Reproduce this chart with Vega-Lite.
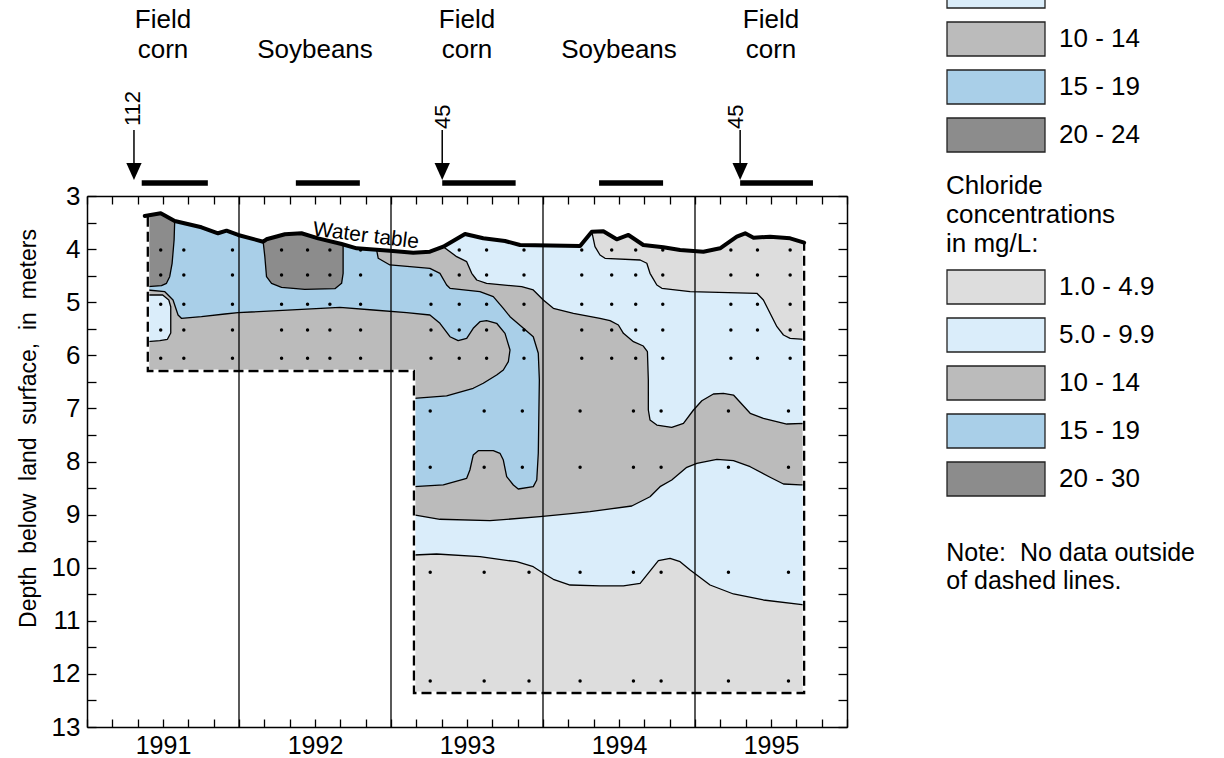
{
"$schema": "https://vega.github.io/schema/vega-lite/v6.json",
"width": 760, "height": 531,
"autosize": {"type": "none"},
"padding": {"left": 87, "top": 196, "right": 377, "bottom": 31},
"background": "white",
"config": {
  "view": {"stroke": null},
  "axis": {"domainColor": "black", "domainWidth": 1.5, "tickColor": "black", "tickWidth": 1.3, "labelColor": "black", "labelFont": "Liberation Sans", "labelFontSize": 26, "grid": false, "titleColor": "black", "titleFont": "Liberation Sans", "titleFontWeight": "normal", "titleFontSize": 23, "labelOverlap": false, "labelFlush": false, "zindex": 1},
  "legend": {"labelFont": "Liberation Sans", "labelFontSize": 26, "labelColor": "black", "labelOffset": 13, "labelLimit": 300, "padding": 0, "titleFont": "Liberation Sans", "titleFontSize": 26, "titleFontWeight": "normal", "titleColor": "black"},
  "text": {"font": "Liberation Sans", "color": "black"}
},
"datasets": {
"polys": [
{"poly":"D","cls":"1.0 - 4.9","i":0,"x":1991.4,"y":3.377},
{"poly":"D","cls":"1.0 - 4.9","i":1,"x":1991.485,"y":3.326},
{"poly":"D","cls":"1.0 - 4.9","i":2,"x":1991.577,"y":3.471},
{"poly":"D","cls":"1.0 - 4.9","i":3,"x":1991.753,"y":3.589},
{"poly":"D","cls":"1.0 - 4.9","i":4,"x":1991.862,"y":3.702},
{"poly":"D","cls":"1.0 - 4.9","i":5,"x":1991.918,"y":3.653},
{"poly":"D","cls":"1.0 - 4.9","i":6,"x":1991.994,"y":3.734},
{"poly":"D","cls":"1.0 - 4.9","i":7,"x":1992.159,"y":3.861},
{"poly":"D","cls":"1.0 - 4.9","i":8,"x":1992.181,"y":3.815},
{"poly":"D","cls":"1.0 - 4.9","i":9,"x":1992.302,"y":3.721},
{"poly":"D","cls":"1.0 - 4.9","i":10,"x":1992.411,"y":3.702},
{"poly":"D","cls":"1.0 - 4.9","i":11,"x":1992.521,"y":3.797},
{"poly":"D","cls":"1.0 - 4.9","i":12,"x":1992.675,"y":3.904},
{"poly":"D","cls":"1.0 - 4.9","i":13,"x":1992.774,"y":3.985},
{"poly":"D","cls":"1.0 - 4.9","i":14,"x":1992.993,"y":4.03},
{"poly":"D","cls":"1.0 - 4.9","i":15,"x":1993.146,"y":4.068},
{"poly":"D","cls":"1.0 - 4.9","i":16,"x":1993.256,"y":4.049},
{"poly":"D","cls":"1.0 - 4.9","i":17,"x":1993.344,"y":3.955},
{"poly":"D","cls":"1.0 - 4.9","i":18,"x":1993.487,"y":3.716},
{"poly":"D","cls":"1.0 - 4.9","i":19,"x":1993.607,"y":3.797},
{"poly":"D","cls":"1.0 - 4.9","i":20,"x":1993.75,"y":3.847},
{"poly":"D","cls":"1.0 - 4.9","i":21,"x":1993.849,"y":3.923},
{"poly":"D","cls":"1.0 - 4.9","i":22,"x":1994.244,"y":3.942},
{"poly":"D","cls":"1.0 - 4.9","i":23,"x":1994.321,"y":3.672},
{"poly":"D","cls":"1.0 - 4.9","i":24,"x":1994.397,"y":3.665},
{"poly":"D","cls":"1.0 - 4.9","i":25,"x":1994.485,"y":3.815},
{"poly":"D","cls":"1.0 - 4.9","i":26,"x":1994.562,"y":3.734},
{"poly":"D","cls":"1.0 - 4.9","i":27,"x":1994.66,"y":3.923},
{"poly":"D","cls":"1.0 - 4.9","i":28,"x":1994.792,"y":3.966},
{"poly":"D","cls":"1.0 - 4.9","i":29,"x":1994.902,"y":4.017},
{"poly":"D","cls":"1.0 - 4.9","i":30,"x":1995.055,"y":4.049},
{"poly":"D","cls":"1.0 - 4.9","i":31,"x":1995.165,"y":3.985},
{"poly":"D","cls":"1.0 - 4.9","i":32,"x":1995.275,"y":3.766},
{"poly":"D","cls":"1.0 - 4.9","i":33,"x":1995.33,"y":3.702},
{"poly":"D","cls":"1.0 - 4.9","i":34,"x":1995.385,"y":3.785},
{"poly":"D","cls":"1.0 - 4.9","i":35,"x":1995.494,"y":3.766},
{"poly":"D","cls":"1.0 - 4.9","i":36,"x":1995.626,"y":3.797},
{"poly":"D","cls":"1.0 - 4.9","i":37,"x":1995.718,"y":3.879},
{"poly":"D","cls":"1.0 - 4.9","i":38,"x":1995.718,"y":12.36},
{"poly":"D","cls":"1.0 - 4.9","i":39,"x":1993.151,"y":12.36},
{"poly":"D","cls":"1.0 - 4.9","i":40,"x":1993.151,"y":6.296},
{"poly":"D","cls":"1.0 - 4.9","i":41,"x":1991.4,"y":6.296},

{"poly":"LB","cls":"5.0 - 9.9","i":0,"x":1991.4,"y":3.377},
{"poly":"LB","cls":"5.0 - 9.9","i":1,"x":1991.485,"y":3.326},
{"poly":"LB","cls":"5.0 - 9.9","i":2,"x":1991.577,"y":3.471},
{"poly":"LB","cls":"5.0 - 9.9","i":3,"x":1991.753,"y":3.589},
{"poly":"LB","cls":"5.0 - 9.9","i":4,"x":1991.862,"y":3.702},
{"poly":"LB","cls":"5.0 - 9.9","i":5,"x":1991.918,"y":3.653},
{"poly":"LB","cls":"5.0 - 9.9","i":6,"x":1991.994,"y":3.734},
{"poly":"LB","cls":"5.0 - 9.9","i":7,"x":1992.159,"y":3.861},
{"poly":"LB","cls":"5.0 - 9.9","i":8,"x":1992.181,"y":3.815},
{"poly":"LB","cls":"5.0 - 9.9","i":9,"x":1992.302,"y":3.721},
{"poly":"LB","cls":"5.0 - 9.9","i":10,"x":1992.411,"y":3.702},
{"poly":"LB","cls":"5.0 - 9.9","i":11,"x":1992.521,"y":3.797},
{"poly":"LB","cls":"5.0 - 9.9","i":12,"x":1992.675,"y":3.904},
{"poly":"LB","cls":"5.0 - 9.9","i":13,"x":1992.774,"y":3.985},
{"poly":"LB","cls":"5.0 - 9.9","i":14,"x":1992.993,"y":4.03},
{"poly":"LB","cls":"5.0 - 9.9","i":15,"x":1993.146,"y":4.068},
{"poly":"LB","cls":"5.0 - 9.9","i":16,"x":1993.256,"y":4.049},
{"poly":"LB","cls":"5.0 - 9.9","i":17,"x":1993.344,"y":3.955},
{"poly":"LB","cls":"5.0 - 9.9","i":18,"x":1993.487,"y":3.716},
{"poly":"LB","cls":"5.0 - 9.9","i":19,"x":1993.607,"y":3.797},
{"poly":"LB","cls":"5.0 - 9.9","i":20,"x":1993.75,"y":3.847},
{"poly":"LB","cls":"5.0 - 9.9","i":21,"x":1993.849,"y":3.923},
{"poly":"LB","cls":"5.0 - 9.9","i":22,"x":1994.244,"y":3.942},
{"poly":"LB","cls":"5.0 - 9.9","i":23,"x":1994.321,"y":3.672},
{"poly":"LB","cls":"5.0 - 9.9","i":24,"x":1994.342,"y":3.955},
{"poly":"LB","cls":"5.0 - 9.9","i":25,"x":1994.375,"y":4.111},
{"poly":"LB","cls":"5.0 - 9.9","i":26,"x":1994.408,"y":4.173},
{"poly":"LB","cls":"5.0 - 9.9","i":27,"x":1994.639,"y":4.205},
{"poly":"LB","cls":"5.0 - 9.9","i":28,"x":1994.683,"y":4.267},
{"poly":"LB","cls":"5.0 - 9.9","i":29,"x":1994.704,"y":4.456},
{"poly":"LB","cls":"5.0 - 9.9","i":30,"x":1994.749,"y":4.676},
{"poly":"LB","cls":"5.0 - 9.9","i":31,"x":1994.782,"y":4.738},
{"poly":"LB","cls":"5.0 - 9.9","i":32,"x":1994.968,"y":4.802},
{"poly":"LB","cls":"5.0 - 9.9","i":33,"x":1995.407,"y":4.832},
{"poly":"LB","cls":"5.0 - 9.9","i":34,"x":1995.45,"y":4.959},
{"poly":"LB","cls":"5.0 - 9.9","i":35,"x":1995.494,"y":5.209},
{"poly":"LB","cls":"5.0 - 9.9","i":36,"x":1995.539,"y":5.461},
{"poly":"LB","cls":"5.0 - 9.9","i":37,"x":1995.582,"y":5.618},
{"poly":"LB","cls":"5.0 - 9.9","i":38,"x":1995.626,"y":5.68},
{"poly":"LB","cls":"5.0 - 9.9","i":39,"x":1995.718,"y":5.699},
{"poly":"LB","cls":"5.0 - 9.9","i":40,"x":1995.718,"y":10.702},
{"poly":"LB","cls":"5.0 - 9.9","i":41,"x":1995.45,"y":10.608},
{"poly":"LB","cls":"5.0 - 9.9","i":42,"x":1995.253,"y":10.495},
{"poly":"LB","cls":"5.0 - 9.9","i":43,"x":1995.099,"y":10.326},
{"poly":"LB","cls":"5.0 - 9.9","i":44,"x":1994.968,"y":10.043},
{"poly":"LB","cls":"5.0 - 9.9","i":45,"x":1994.902,"y":9.887},
{"poly":"LB","cls":"5.0 - 9.9","i":46,"x":1994.836,"y":9.823},
{"poly":"LB","cls":"5.0 - 9.9","i":47,"x":1994.759,"y":9.868},
{"poly":"LB","cls":"5.0 - 9.9","i":48,"x":1994.639,"y":10.294},
{"poly":"LB","cls":"5.0 - 9.9","i":49,"x":1994.529,"y":10.344},
{"poly":"LB","cls":"5.0 - 9.9","i":50,"x":1994.375,"y":10.344},
{"poly":"LB","cls":"5.0 - 9.9","i":51,"x":1994.178,"y":10.326},
{"poly":"LB","cls":"5.0 - 9.9","i":52,"x":1994.068,"y":10.218},
{"poly":"LB","cls":"5.0 - 9.9","i":53,"x":1994.002,"y":10.105},
{"poly":"LB","cls":"5.0 - 9.9","i":54,"x":1993.936,"y":9.981},
{"poly":"LB","cls":"5.0 - 9.9","i":55,"x":1993.827,"y":9.887},
{"poly":"LB","cls":"5.0 - 9.9","i":56,"x":1993.585,"y":9.793},
{"poly":"LB","cls":"5.0 - 9.9","i":57,"x":1993.3,"y":9.742},
{"poly":"LB","cls":"5.0 - 9.9","i":58,"x":1993.151,"y":9.761},
{"poly":"LB","cls":"5.0 - 9.9","i":59,"x":1993.151,"y":6.296},
{"poly":"LB","cls":"5.0 - 9.9","i":60,"x":1991.4,"y":6.296},

{"poly":"G","cls":"10 - 14","i":0,"x":1991.4,"y":3.377},
{"poly":"G","cls":"10 - 14","i":1,"x":1991.485,"y":3.326},
{"poly":"G","cls":"10 - 14","i":2,"x":1991.577,"y":3.471},
{"poly":"G","cls":"10 - 14","i":3,"x":1991.753,"y":3.589},
{"poly":"G","cls":"10 - 14","i":4,"x":1991.862,"y":3.702},
{"poly":"G","cls":"10 - 14","i":5,"x":1991.918,"y":3.653},
{"poly":"G","cls":"10 - 14","i":6,"x":1991.994,"y":3.734},
{"poly":"G","cls":"10 - 14","i":7,"x":1992.159,"y":3.861},
{"poly":"G","cls":"10 - 14","i":8,"x":1992.181,"y":3.815},
{"poly":"G","cls":"10 - 14","i":9,"x":1992.302,"y":3.721},
{"poly":"G","cls":"10 - 14","i":10,"x":1992.411,"y":3.702},
{"poly":"G","cls":"10 - 14","i":11,"x":1992.521,"y":3.797},
{"poly":"G","cls":"10 - 14","i":12,"x":1992.675,"y":3.904},
{"poly":"G","cls":"10 - 14","i":13,"x":1992.774,"y":3.985},
{"poly":"G","cls":"10 - 14","i":14,"x":1992.993,"y":4.03},
{"poly":"G","cls":"10 - 14","i":15,"x":1993.146,"y":4.068},
{"poly":"G","cls":"10 - 14","i":16,"x":1993.256,"y":4.049},
{"poly":"G","cls":"10 - 14","i":17,"x":1993.344,"y":3.955},
{"poly":"G","cls":"10 - 14","i":18,"x":1993.432,"y":4.143},
{"poly":"G","cls":"10 - 14","i":19,"x":1993.498,"y":4.237},
{"poly":"G","cls":"10 - 14","i":20,"x":1993.531,"y":4.456},
{"poly":"G","cls":"10 - 14","i":21,"x":1993.564,"y":4.582},
{"poly":"G","cls":"10 - 14","i":22,"x":1993.629,"y":4.644},
{"poly":"G","cls":"10 - 14","i":23,"x":1993.86,"y":4.708},
{"poly":"G","cls":"10 - 14","i":24,"x":1993.936,"y":4.77},
{"poly":"G","cls":"10 - 14","i":25,"x":1994.002,"y":4.959},
{"poly":"G","cls":"10 - 14","i":26,"x":1994.068,"y":5.115},
{"poly":"G","cls":"10 - 14","i":27,"x":1994.2,"y":5.209},
{"poly":"G","cls":"10 - 14","i":28,"x":1994.375,"y":5.303},
{"poly":"G","cls":"10 - 14","i":29,"x":1994.441,"y":5.348},
{"poly":"G","cls":"10 - 14","i":30,"x":1994.496,"y":5.429},
{"poly":"G","cls":"10 - 14","i":31,"x":1994.529,"y":5.586},
{"poly":"G","cls":"10 - 14","i":32,"x":1994.595,"y":5.744},
{"poly":"G","cls":"10 - 14","i":33,"x":1994.66,"y":5.825},
{"poly":"G","cls":"10 - 14","i":34,"x":1994.687,"y":5.932},
{"poly":"G","cls":"10 - 14","i":35,"x":1994.693,"y":6.465},
{"poly":"G","cls":"10 - 14","i":36,"x":1994.693,"y":7.03},
{"poly":"G","cls":"10 - 14","i":37,"x":1994.704,"y":7.218},
{"poly":"G","cls":"10 - 14","i":38,"x":1994.749,"y":7.313},
{"poly":"G","cls":"10 - 14","i":39,"x":1994.847,"y":7.356},
{"poly":"G","cls":"10 - 14","i":40,"x":1994.924,"y":7.281},
{"poly":"G","cls":"10 - 14","i":41,"x":1994.99,"y":7.03},
{"poly":"G","cls":"10 - 14","i":42,"x":1995.045,"y":6.855},
{"poly":"G","cls":"10 - 14","i":43,"x":1995.121,"y":6.729},
{"poly":"G","cls":"10 - 14","i":44,"x":1995.187,"y":6.716},
{"poly":"G","cls":"10 - 14","i":45,"x":1995.253,"y":6.748},
{"poly":"G","cls":"10 - 14","i":46,"x":1995.363,"y":7.092},
{"poly":"G","cls":"10 - 14","i":47,"x":1995.45,"y":7.186},
{"poly":"G","cls":"10 - 14","i":48,"x":1995.604,"y":7.294},
{"poly":"G","cls":"10 - 14","i":49,"x":1995.718,"y":7.281},
{"poly":"G","cls":"10 - 14","i":50,"x":1995.718,"y":8.442},
{"poly":"G","cls":"10 - 14","i":51,"x":1995.692,"y":8.442},
{"poly":"G","cls":"10 - 14","i":52,"x":1995.582,"y":8.424},
{"poly":"G","cls":"10 - 14","i":53,"x":1995.494,"y":8.297},
{"poly":"G","cls":"10 - 14","i":54,"x":1995.363,"y":8.098},
{"poly":"G","cls":"10 - 14","i":55,"x":1995.253,"y":7.985},
{"poly":"G","cls":"10 - 14","i":56,"x":1995.144,"y":7.959},
{"poly":"G","cls":"10 - 14","i":57,"x":1995.012,"y":8.034},
{"poly":"G","cls":"10 - 14","i":58,"x":1994.946,"y":8.109},
{"poly":"G","cls":"10 - 14","i":59,"x":1994.847,"y":8.348},
{"poly":"G","cls":"10 - 14","i":60,"x":1994.77,"y":8.474},
{"poly":"G","cls":"10 - 14","i":61,"x":1994.704,"y":8.663},
{"poly":"G","cls":"10 - 14","i":62,"x":1994.584,"y":8.838},
{"poly":"G","cls":"10 - 14","i":63,"x":1994.309,"y":8.945},
{"poly":"G","cls":"10 - 14","i":64,"x":1994.2,"y":8.975},
{"poly":"G","cls":"10 - 14","i":65,"x":1993.98,"y":9.039},
{"poly":"G","cls":"10 - 14","i":66,"x":1993.651,"y":9.115},
{"poly":"G","cls":"10 - 14","i":67,"x":1993.322,"y":9.088},
{"poly":"G","cls":"10 - 14","i":68,"x":1993.151,"y":9.007},
{"poly":"G","cls":"10 - 14","i":69,"x":1993.151,"y":6.296},
{"poly":"G","cls":"10 - 14","i":70,"x":1991.4,"y":6.296},

{"poly":"LB2","cls":"5.0 - 9.9","i":0,"x":1991.4,"y":4.864},
{"poly":"LB2","cls":"5.0 - 9.9","i":1,"x":1991.498,"y":4.864},
{"poly":"LB2","cls":"5.0 - 9.9","i":2,"x":1991.538,"y":4.959},
{"poly":"LB2","cls":"5.0 - 9.9","i":3,"x":1991.551,"y":5.085},
{"poly":"LB2","cls":"5.0 - 9.9","i":4,"x":1991.551,"y":5.58},
{"poly":"LB2","cls":"5.0 - 9.9","i":5,"x":1991.529,"y":5.699},
{"poly":"LB2","cls":"5.0 - 9.9","i":6,"x":1991.479,"y":5.725},
{"poly":"LB2","cls":"5.0 - 9.9","i":7,"x":1991.4,"y":5.744},

{"poly":"B","cls":"15 - 19","i":0,"x":1991.4,"y":3.377},
{"poly":"B","cls":"15 - 19","i":1,"x":1991.485,"y":3.326},
{"poly":"B","cls":"15 - 19","i":2,"x":1991.577,"y":3.471},
{"poly":"B","cls":"15 - 19","i":3,"x":1991.753,"y":3.589},
{"poly":"B","cls":"15 - 19","i":4,"x":1991.862,"y":3.702},
{"poly":"B","cls":"15 - 19","i":5,"x":1991.918,"y":3.653},
{"poly":"B","cls":"15 - 19","i":6,"x":1991.994,"y":3.734},
{"poly":"B","cls":"15 - 19","i":7,"x":1992.159,"y":3.861},
{"poly":"B","cls":"15 - 19","i":8,"x":1992.181,"y":3.815},
{"poly":"B","cls":"15 - 19","i":9,"x":1992.302,"y":3.721},
{"poly":"B","cls":"15 - 19","i":10,"x":1992.411,"y":3.702},
{"poly":"B","cls":"15 - 19","i":11,"x":1992.521,"y":3.797},
{"poly":"B","cls":"15 - 19","i":12,"x":1992.675,"y":3.904},
{"poly":"B","cls":"15 - 19","i":13,"x":1992.774,"y":3.985},
{"poly":"B","cls":"15 - 19","i":14,"x":1992.905,"y":4.012},
{"poly":"B","cls":"15 - 19","i":15,"x":1992.916,"y":4.173},
{"poly":"B","cls":"15 - 19","i":16,"x":1992.993,"y":4.299},
{"poly":"B","cls":"15 - 19","i":17,"x":1993.256,"y":4.362},
{"poly":"B","cls":"15 - 19","i":18,"x":1993.322,"y":4.456},
{"poly":"B","cls":"15 - 19","i":19,"x":1993.366,"y":4.676},
{"poly":"B","cls":"15 - 19","i":20,"x":1993.388,"y":4.738},
{"poly":"B","cls":"15 - 19","i":21,"x":1993.585,"y":4.802},
{"poly":"B","cls":"15 - 19","i":22,"x":1993.673,"y":4.896},
{"poly":"B","cls":"15 - 19","i":23,"x":1993.739,"y":5.115},
{"poly":"B","cls":"15 - 19","i":24,"x":1993.783,"y":5.273},
{"poly":"B","cls":"15 - 19","i":25,"x":1993.86,"y":5.461},
{"poly":"B","cls":"15 - 19","i":26,"x":1993.936,"y":5.65},
{"poly":"B","cls":"15 - 19","i":27,"x":1993.969,"y":5.962},
{"poly":"B","cls":"15 - 19","i":28,"x":1993.976,"y":6.465},
{"poly":"B","cls":"15 - 19","i":29,"x":1993.969,"y":7.846},
{"poly":"B","cls":"15 - 19","i":30,"x":1993.959,"y":8.348},
{"poly":"B","cls":"15 - 19","i":31,"x":1993.936,"y":8.474},
{"poly":"B","cls":"15 - 19","i":32,"x":1993.837,"y":8.518},
{"poly":"B","cls":"15 - 19","i":33,"x":1993.805,"y":8.442},
{"poly":"B","cls":"15 - 19","i":34,"x":1993.761,"y":8.286},
{"poly":"B","cls":"15 - 19","i":35,"x":1993.739,"y":7.972},
{"poly":"B","cls":"15 - 19","i":36,"x":1993.717,"y":7.846},
{"poly":"B","cls":"15 - 19","i":37,"x":1993.673,"y":7.797},
{"poly":"B","cls":"15 - 19","i":38,"x":1993.574,"y":7.797},
{"poly":"B","cls":"15 - 19","i":39,"x":1993.541,"y":7.878},
{"poly":"B","cls":"15 - 19","i":40,"x":1993.519,"y":8.16},
{"poly":"B","cls":"15 - 19","i":41,"x":1993.498,"y":8.316},
{"poly":"B","cls":"15 - 19","i":42,"x":1993.344,"y":8.442},
{"poly":"B","cls":"15 - 19","i":43,"x":1993.151,"y":8.474},
{"poly":"B","cls":"15 - 19","i":44,"x":1993.151,"y":6.81},
{"poly":"B","cls":"15 - 19","i":45,"x":1993.366,"y":6.766},
{"poly":"B","cls":"15 - 19","i":46,"x":1993.541,"y":6.621},
{"poly":"B","cls":"15 - 19","i":47,"x":1993.607,"y":6.527},
{"poly":"B","cls":"15 - 19","i":48,"x":1993.695,"y":6.371},
{"poly":"B","cls":"15 - 19","i":49,"x":1993.739,"y":6.277},
{"poly":"B","cls":"15 - 19","i":50,"x":1993.772,"y":6.12},
{"poly":"B","cls":"15 - 19","i":51,"x":1993.783,"y":5.9},
{"poly":"B","cls":"15 - 19","i":52,"x":1993.75,"y":5.586},
{"poly":"B","cls":"15 - 19","i":53,"x":1993.695,"y":5.397},
{"poly":"B","cls":"15 - 19","i":54,"x":1993.629,"y":5.348},
{"poly":"B","cls":"15 - 19","i":55,"x":1993.585,"y":5.367},
{"poly":"B","cls":"15 - 19","i":56,"x":1993.541,"y":5.491},
{"poly":"B","cls":"15 - 19","i":57,"x":1993.498,"y":5.68},
{"poly":"B","cls":"15 - 19","i":58,"x":1993.442,"y":5.725},
{"poly":"B","cls":"15 - 19","i":59,"x":1993.388,"y":5.65},
{"poly":"B","cls":"15 - 19","i":60,"x":1993.322,"y":5.397},
{"poly":"B","cls":"15 - 19","i":61,"x":1993.256,"y":5.241},
{"poly":"B","cls":"15 - 19","i":62,"x":1993.103,"y":5.198},
{"poly":"B","cls":"15 - 19","i":63,"x":1992.883,"y":5.147},
{"poly":"B","cls":"15 - 19","i":64,"x":1992.664,"y":5.096},
{"poly":"B","cls":"15 - 19","i":65,"x":1991.994,"y":5.198},
{"poly":"B","cls":"15 - 19","i":66,"x":1991.907,"y":5.222},
{"poly":"B","cls":"15 - 19","i":67,"x":1991.753,"y":5.273},
{"poly":"B","cls":"15 - 19","i":68,"x":1991.621,"y":5.303},
{"poly":"B","cls":"15 - 19","i":69,"x":1991.599,"y":5.241},
{"poly":"B","cls":"15 - 19","i":70,"x":1991.566,"y":4.959},
{"poly":"B","cls":"15 - 19","i":71,"x":1991.512,"y":4.802},
{"poly":"B","cls":"15 - 19","i":72,"x":1991.4,"y":4.77},

{"poly":"DA","cls":"20 - 30","i":0,"x":1991.4,"y":3.377},
{"poly":"DA","cls":"20 - 30","i":1,"x":1991.485,"y":3.326},
{"poly":"DA","cls":"20 - 30","i":2,"x":1991.577,"y":3.471},
{"poly":"DA","cls":"20 - 30","i":3,"x":1991.573,"y":3.829},
{"poly":"DA","cls":"20 - 30","i":4,"x":1991.56,"y":4.267},
{"poly":"DA","cls":"20 - 30","i":5,"x":1991.544,"y":4.52},
{"poly":"DA","cls":"20 - 30","i":6,"x":1991.523,"y":4.644},
{"poly":"DA","cls":"20 - 30","i":7,"x":1991.49,"y":4.689},
{"poly":"DA","cls":"20 - 30","i":8,"x":1991.4,"y":4.708},

{"poly":"DB","cls":"20 - 30","i":0,"x":1992.159,"y":3.861},
{"poly":"DB","cls":"20 - 30","i":1,"x":1992.181,"y":3.815},
{"poly":"DB","cls":"20 - 30","i":2,"x":1992.302,"y":3.721},
{"poly":"DB","cls":"20 - 30","i":3,"x":1992.411,"y":3.702},
{"poly":"DB","cls":"20 - 30","i":4,"x":1992.521,"y":3.797},
{"poly":"DB","cls":"20 - 30","i":5,"x":1992.675,"y":3.904},
{"poly":"DB","cls":"20 - 30","i":6,"x":1992.685,"y":3.923},
{"poly":"DB","cls":"20 - 30","i":7,"x":1992.685,"y":4.205},
{"poly":"DB","cls":"20 - 30","i":8,"x":1992.685,"y":4.456},
{"poly":"DB","cls":"20 - 30","i":9,"x":1992.675,"y":4.644},
{"poly":"DB","cls":"20 - 30","i":10,"x":1992.631,"y":4.746},
{"poly":"DB","cls":"20 - 30","i":11,"x":1992.433,"y":4.757},
{"poly":"DB","cls":"20 - 30","i":12,"x":1992.28,"y":4.719},
{"poly":"DB","cls":"20 - 30","i":13,"x":1992.214,"y":4.644},
{"poly":"DB","cls":"20 - 30","i":14,"x":1992.181,"y":4.52},
{"poly":"DB","cls":"20 - 30","i":15,"x":1992.17,"y":4.143},
{"poly":"DB","cls":"20 - 30","i":16,"x":1992.159,"y":3.861}
],
"lines": [
{"line":"wt","i":0,"x":1991.38,"y":3.377},
{"line":"wt","i":1,"x":1991.485,"y":3.326},
{"line":"wt","i":2,"x":1991.577,"y":3.471},
{"line":"wt","i":3,"x":1991.753,"y":3.589},
{"line":"wt","i":4,"x":1991.862,"y":3.702},
{"line":"wt","i":5,"x":1991.918,"y":3.653},
{"line":"wt","i":6,"x":1991.994,"y":3.734},
{"line":"wt","i":7,"x":1992.159,"y":3.861},
{"line":"wt","i":8,"x":1992.181,"y":3.815},
{"line":"wt","i":9,"x":1992.302,"y":3.721},
{"line":"wt","i":10,"x":1992.411,"y":3.702},
{"line":"wt","i":11,"x":1992.521,"y":3.797},
{"line":"wt","i":12,"x":1992.675,"y":3.904},
{"line":"wt","i":13,"x":1992.774,"y":3.985},
{"line":"wt","i":14,"x":1992.993,"y":4.03},
{"line":"wt","i":15,"x":1993.146,"y":4.068},
{"line":"wt","i":16,"x":1993.256,"y":4.049},
{"line":"wt","i":17,"x":1993.344,"y":3.955},
{"line":"wt","i":18,"x":1993.487,"y":3.716},
{"line":"wt","i":19,"x":1993.607,"y":3.797},
{"line":"wt","i":20,"x":1993.75,"y":3.847},
{"line":"wt","i":21,"x":1993.849,"y":3.923},
{"line":"wt","i":22,"x":1994.244,"y":3.942},
{"line":"wt","i":23,"x":1994.321,"y":3.672},
{"line":"wt","i":24,"x":1994.397,"y":3.665},
{"line":"wt","i":25,"x":1994.485,"y":3.815},
{"line":"wt","i":26,"x":1994.562,"y":3.734},
{"line":"wt","i":27,"x":1994.66,"y":3.923},
{"line":"wt","i":28,"x":1994.792,"y":3.966},
{"line":"wt","i":29,"x":1994.902,"y":4.017},
{"line":"wt","i":30,"x":1995.055,"y":4.049},
{"line":"wt","i":31,"x":1995.165,"y":3.985},
{"line":"wt","i":32,"x":1995.275,"y":3.766},
{"line":"wt","i":33,"x":1995.33,"y":3.702},
{"line":"wt","i":34,"x":1995.385,"y":3.785},
{"line":"wt","i":35,"x":1995.494,"y":3.766},
{"line":"wt","i":36,"x":1995.626,"y":3.797},
{"line":"wt","i":37,"x":1995.718,"y":3.879},
{"line":"bound","i":0,"x":1991.4,"y":3.39},
{"line":"bound","i":1,"x":1991.4,"y":6.296},
{"line":"bound","i":2,"x":1993.151,"y":6.296},
{"line":"bound","i":3,"x":1993.151,"y":12.36},
{"line":"bound","i":4,"x":1995.718,"y":12.36},
{"line":"bound","i":5,"x":1995.718,"y":3.89}
],
"dots": [
{"x":1991.485,"y":4.017},{"x":1991.485,"y":4.488},{"x":1991.485,"y":5.04},{"x":1991.485,"y":5.524},{"x":1991.485,"y":6.056},
{"x":1991.637,"y":4.017},{"x":1991.637,"y":4.488},{"x":1991.637,"y":5.04},{"x":1991.637,"y":5.524},{"x":1991.637,"y":6.056},
{"x":1991.957,"y":4.017},{"x":1991.957,"y":4.488},{"x":1991.957,"y":5.04},{"x":1991.957,"y":5.524},{"x":1991.957,"y":6.056},
{"x":1992.28,"y":4.017},{"x":1992.28,"y":4.488},{"x":1992.28,"y":5.04},{"x":1992.28,"y":5.524},{"x":1992.28,"y":6.056},
{"x":1992.451,"y":4.017},{"x":1992.451,"y":4.488},{"x":1992.451,"y":5.04},{"x":1992.451,"y":5.524},{"x":1992.451,"y":6.056},
{"x":1992.598,"y":4.017},{"x":1992.598,"y":4.488},{"x":1992.598,"y":5.04},{"x":1992.598,"y":5.524},{"x":1992.598,"y":6.056},
{"x":1992.8,"y":4.017},{"x":1992.8,"y":4.488},{"x":1992.8,"y":5.04},{"x":1992.8,"y":5.524},{"x":1992.8,"y":6.056},
{"x":1993.263,"y":4.488},{"x":1993.263,"y":5.04},{"x":1993.263,"y":5.524},{"x":1993.263,"y":6.056},
{"x":1993.449,"y":4.017},{"x":1993.449,"y":4.488},{"x":1993.449,"y":5.04},{"x":1993.449,"y":5.524},{"x":1993.449,"y":6.056},
{"x":1993.629,"y":4.017},{"x":1993.629,"y":4.488},{"x":1993.629,"y":5.04},{"x":1993.629,"y":5.524},{"x":1993.629,"y":6.056},
{"x":1993.875,"y":4.017},{"x":1993.875,"y":4.488},{"x":1993.875,"y":5.04},{"x":1993.875,"y":5.524},{"x":1993.875,"y":6.056},
{"x":1994.255,"y":4.017},{"x":1994.255,"y":4.488},{"x":1994.255,"y":5.04},{"x":1994.255,"y":5.524},{"x":1994.255,"y":6.056},
{"x":1994.452,"y":4.017},{"x":1994.452,"y":4.488},{"x":1994.452,"y":5.04},{"x":1994.452,"y":5.524},{"x":1994.452,"y":6.056},
{"x":1994.61,"y":4.017},{"x":1994.61,"y":4.488},{"x":1994.61,"y":5.04},{"x":1994.61,"y":5.524},{"x":1994.61,"y":6.056},
{"x":1994.788,"y":4.017},{"x":1994.788,"y":4.488},{"x":1994.788,"y":5.04},{"x":1994.788,"y":5.524},{"x":1994.788,"y":6.056},
{"x":1995.236,"y":4.017},{"x":1995.236,"y":4.488},{"x":1995.236,"y":5.04},{"x":1995.236,"y":5.524},{"x":1995.236,"y":6.056},
{"x":1995.411,"y":4.017},{"x":1995.411,"y":4.488},{"x":1995.411,"y":5.04},{"x":1995.411,"y":5.524},{"x":1995.411,"y":6.056},
{"x":1995.626,"y":4.017},{"x":1995.626,"y":4.488},{"x":1995.626,"y":5.04},{"x":1995.626,"y":5.524},{"x":1995.626,"y":6.056},
{"x":1993.258,"y":7.049},{"x":1993.613,"y":7.049},{"x":1993.864,"y":7.049},{"x":1994.244,"y":7.049},{"x":1994.595,"y":7.049},{"x":1994.777,"y":7.049},{"x":1995.22,"y":7.049},{"x":1995.615,"y":7.049},
{"x":1993.258,"y":8.109},{"x":1993.613,"y":8.109},{"x":1993.864,"y":8.109},{"x":1994.244,"y":8.109},{"x":1994.595,"y":8.109},{"x":1994.777,"y":8.109},{"x":1995.22,"y":8.109},{"x":1995.615,"y":8.109},
{"x":1993.258,"y":10.087},{"x":1993.613,"y":10.087},{"x":1993.908,"y":10.087},{"x":1994.244,"y":10.087},{"x":1994.595,"y":10.087},{"x":1994.777,"y":10.087},{"x":1995.22,"y":10.087},{"x":1995.615,"y":10.087},
{"x":1993.258,"y":12.134},{"x":1993.613,"y":12.134},{"x":1993.908,"y":12.134},{"x":1994.244,"y":12.134},{"x":1994.595,"y":12.134},{"x":1994.777,"y":12.134},{"x":1995.22,"y":12.134},{"x":1995.615,"y":12.134}
],
"years": [{"x":1992},{"x":1993},{"x":1994},{"x":1995}],
"bars": [
{"x":1991.36,"x2":1991.795,"y":2.755},
{"x":1992.374,"x2":1992.795,"y":2.755},
{"x":1993.337,"x2":1993.82,"y":2.755},
{"x":1994.369,"x2":1994.79,"y":2.755},
{"x":1995.297,"x2":1995.776,"y":2.755}
],
"arrows": [
{"x":1991.309,"y":1.757,"y2":2.42,"yh":2.539},
{"x":1993.337,"y":1.757,"y2":2.42,"yh":2.539},
{"x":1995.297,"y":1.757,"y2":2.42,"yh":2.539}
],
"crops": [
{"t":"Field","x":1991.5,"y":-0.158},{"t":"corn","x":1991.5,"y":0.407},
{"t":"Soybeans","x":1992.5,"y":0.407},
{"t":"Field","x":1993.5,"y":-0.158},{"t":"corn","x":1993.5,"y":0.407},
{"t":"Soybeans","x":1994.5,"y":0.407},
{"t":"Field","x":1995.5,"y":-0.158},{"t":"corn","x":1995.5,"y":0.407}
],
"nums": [
{"t":"112","x":1991.347,"y":1.352},
{"t":"45","x":1993.388,"y":1.507},
{"t":"45","x":1995.319,"y":1.507}
],
"notes": [
{"t":"Note:\u00a0 No data outside","x":1996.653,"y":9.874},
{"t":"of dashed lines.","x":1996.653,"y":10.401}
],
"wtlabel": [{"t":"Water table","x":1992.835,"y":3.754}]
},
"resolve": {"axis": {"x": "independent", "y": "independent"}},
"layer": [
{
  "data": {"name": "polys"},
  "transform": [{"filter": "datum.poly == 'D'"}],
  "mark": {"type": "line", "stroke": "black", "strokeWidth": 1.3, "strokeJoin": "round"},
  "encoding": {
    "x": {"field": "x", "type": "quantitative", "scale": {"domain": [1991, 1996], "nice": false, "zero": false},
      "axis": {"orient": "bottom", "title": null, "values": [1991,1991.1667,1991.3333,1991.5,1991.6667,1991.8333,1992,1992.1667,1992.3333,1992.5,1992.6667,1992.8333,1993,1993.1667,1993.3333,1993.5,1993.6667,1993.8333,1994,1994.1667,1994.3333,1994.5,1994.6667,1994.8333,1995,1995.1667,1995.3333,1995.5,1995.6667,1995.8333,1996],
        "labelExpr": "abs(datum.value - floor(datum.value) - 0.5) < 0.01 ? '' + floor(datum.value) : ''", "tickSize": -8, "labelPadding": 14, "labelFontSize": 25}},
    "y": {"field": "y", "type": "quantitative", "scale": {"domain": [3, 13], "reverse": true, "nice": false, "zero": false},
      "axis": {"orient": "left", "title": "Depth\u00a0 below\u00a0 land\u00a0 surface,\u00a0 in\u00a0 meters", "values": [3,3.5,4,4.5,5,5.5,6,6.5,7,7.5,8,8.5,9,9.5,10,10.5,11,11.5,12,12.5,13],
        "labelExpr": "datum.value % 1 == 0 ? '' + datum.value : ''", "tickSize": -9, "labelPadding": 16, "titlePadding": 11, "titleY": 232}},
    "fill": {"field": "cls", "type": "nominal",
      "scale": {"domain": ["1.0 - 4.9", "5.0 - 9.9", "10 - 14", "15 - 19", "20 - 30"], "range": ["#dddddd", "#daedfa", "#bbbbbb", "#a9cfe8", "#8c8c8c"]},
      "legend": {"orient": "none", "legendX": 859, "legendY": -23, "direction": "vertical",
        "title": ["Chloride", "concentrations", "in mg/L:"], "titleLineHeight": 29, "titlePadding": 12,
        "symbolType": "M-1,-0.347H1V0.347H-1Z", "symbolSize": 9604, "symbolStrokeColor": "#222222", "symbolStrokeWidth": 1.3, "symbolOpacity": 1,
        "clipHeight": 36, "rowPadding": 12}},
    "order": {"field": "i", "type": "quantitative"}
  }
},
{
  "data": {"name": "polys"},
  "transform": [{"filter": "datum.poly == 'LB'"}],
  "mark": {"type": "line", "stroke": "black", "strokeWidth": 1.3, "strokeJoin": "round"},
  "encoding": {
    "x": {"field": "x", "type": "quantitative", "scale": {"domain": [1991, 1996], "nice": false, "zero": false}, "axis": null},
    "y": {"field": "y", "type": "quantitative", "scale": {"domain": [3, 13], "reverse": true, "nice": false, "zero": false}, "axis": null},
    "fill": {"field": "cls", "type": "nominal", "legend": null},
    "order": {"field": "i", "type": "quantitative"}
  }
},
{
  "data": {"name": "polys"},
  "transform": [{"filter": "datum.poly == 'G'"}],
  "mark": {"type": "line", "stroke": "black", "strokeWidth": 1.3, "strokeJoin": "round"},
  "encoding": {
    "x": {"field": "x", "type": "quantitative", "scale": {"domain": [1991, 1996], "nice": false, "zero": false}, "axis": null},
    "y": {"field": "y", "type": "quantitative", "scale": {"domain": [3, 13], "reverse": true, "nice": false, "zero": false}, "axis": null},
    "fill": {"field": "cls", "type": "nominal", "legend": null},
    "order": {"field": "i", "type": "quantitative"}
  }
},
{
  "data": {"name": "polys"},
  "transform": [{"filter": "datum.poly == 'LB2'"}],
  "mark": {"type": "line", "stroke": "black", "strokeWidth": 1.3, "strokeJoin": "round"},
  "encoding": {
    "x": {"field": "x", "type": "quantitative", "scale": {"domain": [1991, 1996], "nice": false, "zero": false}, "axis": null},
    "y": {"field": "y", "type": "quantitative", "scale": {"domain": [3, 13], "reverse": true, "nice": false, "zero": false}, "axis": null},
    "fill": {"field": "cls", "type": "nominal", "legend": null},
    "order": {"field": "i", "type": "quantitative"}
  }
},
{
  "data": {"name": "polys"},
  "transform": [{"filter": "datum.poly == 'B'"}],
  "mark": {"type": "line", "stroke": "black", "strokeWidth": 1.3, "strokeJoin": "round"},
  "encoding": {
    "x": {"field": "x", "type": "quantitative", "scale": {"domain": [1991, 1996], "nice": false, "zero": false}, "axis": null},
    "y": {"field": "y", "type": "quantitative", "scale": {"domain": [3, 13], "reverse": true, "nice": false, "zero": false}, "axis": null},
    "fill": {"field": "cls", "type": "nominal", "legend": null},
    "order": {"field": "i", "type": "quantitative"}
  }
},
{
  "data": {"name": "polys"},
  "transform": [{"filter": "datum.poly == 'DA'"}],
  "mark": {"type": "line", "stroke": "black", "strokeWidth": 1.3, "strokeJoin": "round"},
  "encoding": {
    "x": {"field": "x", "type": "quantitative", "scale": {"domain": [1991, 1996], "nice": false, "zero": false}, "axis": null},
    "y": {"field": "y", "type": "quantitative", "scale": {"domain": [3, 13], "reverse": true, "nice": false, "zero": false}, "axis": null},
    "fill": {"field": "cls", "type": "nominal", "legend": null},
    "order": {"field": "i", "type": "quantitative"}
  }
},
{
  "data": {"name": "polys"},
  "transform": [{"filter": "datum.poly == 'DB'"}],
  "mark": {"type": "line", "stroke": "black", "strokeWidth": 1.3, "strokeJoin": "round"},
  "encoding": {
    "x": {"field": "x", "type": "quantitative", "scale": {"domain": [1991, 1996], "nice": false, "zero": false}, "axis": null},
    "y": {"field": "y", "type": "quantitative", "scale": {"domain": [3, 13], "reverse": true, "nice": false, "zero": false}, "axis": null},
    "fill": {"field": "cls", "type": "nominal", "legend": null},
    "order": {"field": "i", "type": "quantitative"}
  }
},
{
  "data": {"name": "lines"},
  "transform": [{"filter": "datum.line == 'bound'"}],
  "mark": {"type": "line", "stroke": "white", "strokeWidth": 3},
  "encoding": {
    "x": {"field": "x", "type": "quantitative", "axis": null},
    "y": {"field": "y", "type": "quantitative", "axis": null},
    "order": {"field": "i", "type": "quantitative"}
  }
},
{
  "data": {"name": "lines"},
  "transform": [{"filter": "datum.line == 'bound'"}],
  "mark": {"type": "line", "stroke": "black", "strokeWidth": 2.3, "strokeDash": [10, 5]},
  "encoding": {
    "x": {"field": "x", "type": "quantitative", "axis": null},
    "y": {"field": "y", "type": "quantitative", "axis": null},
    "order": {"field": "i", "type": "quantitative"}
  }
},
{
  "data": {"name": "years"},
  "mark": {"type": "rule", "color": "black", "strokeWidth": 1.3},
  "encoding": {
    "x": {"field": "x", "type": "quantitative", "axis": null}
  }
},
{
  "data": {"name": "lines"},
  "transform": [{"filter": "datum.line == 'wt'"}],
  "mark": {"type": "line", "stroke": "black", "strokeWidth": 4, "strokeJoin": "round", "strokeCap": "round"},
  "encoding": {
    "x": {"field": "x", "type": "quantitative", "axis": null},
    "y": {"field": "y", "type": "quantitative", "axis": null},
    "order": {"field": "i", "type": "quantitative"}
  }
},
{
  "data": {"name": "dots"},
  "mark": {"type": "circle", "color": "black", "size": 12, "opacity": 1},
  "encoding": {
    "x": {"field": "x", "type": "quantitative",
      "axis": {"orient": "top", "title": null, "labels": false, "tickSize": -8, "values": [1991,1991.1667,1991.3333,1991.5,1991.6667,1991.8333,1992,1992.1667,1992.3333,1992.5,1992.6667,1992.8333,1993,1993.1667,1993.3333,1993.5,1993.6667,1993.8333,1994,1994.1667,1994.3333,1994.5,1994.6667,1994.8333,1995,1995.1667,1995.3333,1995.5,1995.6667,1995.8333,1996]}},
    "y": {"field": "y", "type": "quantitative",
      "axis": {"orient": "right", "title": null, "labels": false, "tickSize": -9, "values": [3,3.5,4,4.5,5,5.5,6,6.5,7,7.5,8,8.5,9,9.5,10,10.5,11,11.5,12,12.5,13]}}
  }
},
{
  "data": {"name": "bars"},
  "mark": {"type": "rule", "color": "black", "strokeWidth": 5.5},
  "encoding": {
    "x": {"field": "x", "type": "quantitative", "axis": null},
    "x2": {"field": "x2"},
    "y": {"field": "y", "type": "quantitative", "axis": null}
  }
},
{
  "data": {"name": "arrows"},
  "mark": {"type": "rule", "color": "black", "strokeWidth": 1.5},
  "encoding": {
    "x": {"field": "x", "type": "quantitative", "axis": null},
    "y": {"field": "y", "type": "quantitative", "axis": null},
    "y2": {"field": "y2"}
  }
},
{
  "data": {"name": "arrows"},
  "mark": {"type": "point", "shape": "M-0.45,-0.5L0.45,-0.5L0,0.5Z", "size": 1156, "filled": true, "color": "black", "opacity": 1},
  "encoding": {
    "x": {"field": "x", "type": "quantitative", "axis": null},
    "y": {"field": "yh", "type": "quantitative", "axis": null}
  }
},
{
  "data": {"name": "crops"},
  "mark": {"type": "text", "fontSize": 26, "align": "center", "baseline": "alphabetic"},
  "encoding": {
    "x": {"field": "x", "type": "quantitative", "axis": null},
    "y": {"field": "y", "type": "quantitative", "axis": null},
    "text": {"field": "t"}
  }
},
{
  "data": {"name": "nums"},
  "mark": {"type": "text", "fontSize": 22, "align": "center", "baseline": "alphabetic", "angle": 270},
  "encoding": {
    "x": {"field": "x", "type": "quantitative", "axis": null},
    "y": {"field": "y", "type": "quantitative", "axis": null},
    "text": {"field": "t"}
  }
},
{
  "data": {"name": "wtlabel"},
  "mark": {"type": "text", "fontSize": 21, "align": "center", "baseline": "middle", "angle": 7},
  "encoding": {
    "x": {"field": "x", "type": "quantitative", "axis": null},
    "y": {"field": "y", "type": "quantitative", "axis": null},
    "text": {"field": "t"}
  }
},
{
  "data": {"name": "notes"},
  "mark": {"type": "text", "fontSize": 25, "align": "left", "baseline": "alphabetic"},
  "encoding": {
    "x": {"field": "x", "type": "quantitative", "axis": null},
    "y": {"field": "y", "type": "quantitative", "axis": null},
    "text": {"field": "t"}
  }
},
{
  "data": {"values": [{"x": 1991, "y": 3, "k": "10 - 14"}]},
  "transform": [{"filter": "false"}],
  "mark": {"type": "square"},
  "encoding": {
    "x": {"field": "x", "type": "quantitative", "axis": null},
    "y": {"field": "y", "type": "quantitative", "axis": null},
    "color": {"field": "k", "type": "nominal",
      "scale": {"domain": ["1.0 - 4.9", "5.0 - 9.9", "10 - 14", "15 - 19", "20 - 24"], "range": ["#dddddd", "#daedfa", "#bbbbbb", "#a9cfe8", "#8c8c8c"]},
      "legend": {"orient": "none", "legendX": 859, "legendY": -271, "direction": "vertical", "title": null,
        "symbolType": "M-1,-0.347H1V0.347H-1Z", "symbolSize": 9604, "symbolStrokeColor": "#222222", "symbolStrokeWidth": 1.3, "symbolOpacity": 1,
        "clipHeight": 36, "rowPadding": 12}}
  }
}
]
}
